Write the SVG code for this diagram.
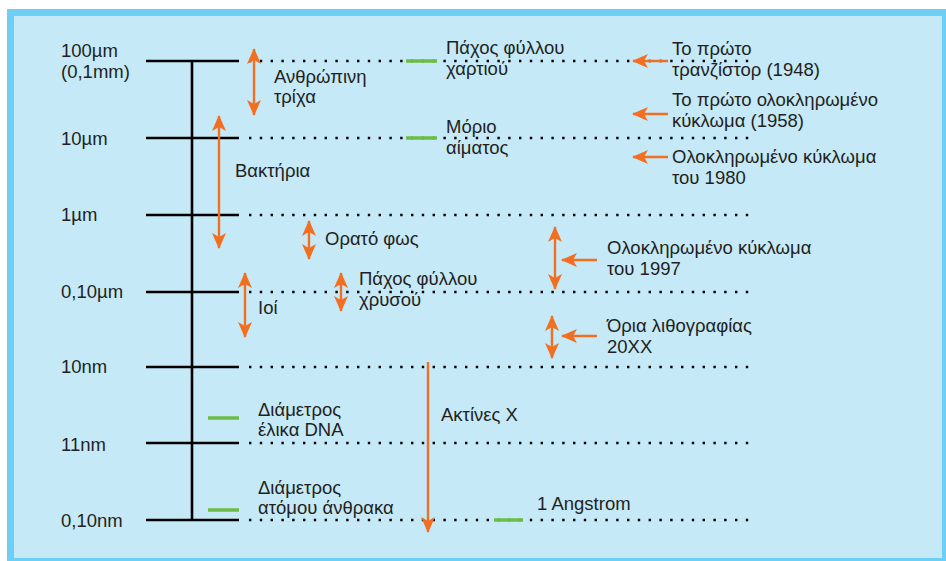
<svg xmlns="http://www.w3.org/2000/svg" width="946" height="561" viewBox="0 0 946 561">
<style>
text{font-family:"Liberation Sans",Arial,sans-serif;font-size:18.5px;fill:#231f20}
.tick{stroke:#000;stroke-width:2.6;fill:none}
.dot{stroke:#000;stroke-width:2.4;stroke-dasharray:2.4 8.4;fill:none}
.or{stroke:#f26f21;stroke-width:2.4;fill:none}
.gr{stroke:#6cbd45;stroke-width:3.5;fill:none}
</style>
<defs>
<marker id="ah" viewBox="0 0 16 14" refX="15" refY="7" markerWidth="16" markerHeight="14" markerUnits="userSpaceOnUse" orient="auto-start-reverse">
<path d="M0,0 L16,7 L0,14 L4,7 Z" fill="#f26f21"/>
</marker>
</defs>
<rect x="7" y="9" width="939" height="552" fill="#6dcff6"/>
<rect x="14" y="16" width="928" height="542" fill="#c6e9f8"/>

<g id="scale">
<line class="tick" x1="192" y1="61" x2="192" y2="520"/>
<line class="tick" x1="146" y1="61" x2="239" y2="61"/>
<line class="tick" x1="146" y1="138" x2="239" y2="138"/>
<line class="tick" x1="146" y1="215" x2="239" y2="215"/>
<line class="tick" x1="146" y1="292" x2="239" y2="292"/>
<line class="tick" x1="146" y1="367" x2="239" y2="367"/>
<line class="tick" x1="146" y1="443" x2="239" y2="443"/>
<line class="tick" x1="146" y1="520" x2="239" y2="520"/>
<line class="dot" x1="249" y1="61" x2="752" y2="61"/>
<line class="dot" x1="249" y1="138" x2="752" y2="138"/>
<line class="dot" x1="249" y1="215" x2="752" y2="215"/>
<line class="dot" x1="249" y1="292" x2="752" y2="292"/>
<line class="dot" x1="249" y1="367" x2="752" y2="367"/>
<line class="dot" x1="249" y1="443" x2="752" y2="443"/>
<line class="dot" x1="249" y1="520" x2="752" y2="520"/>
<text x="61" y="57">100µm</text>
<text x="61" y="78">(0,1mm)</text>
<text x="61" y="145">10µm</text>
<text x="61" y="221">1µm</text>
<text x="61" y="298">0,10µm</text>
<text x="61" y="373">10nm</text>
<text x="61" y="451">11nm</text>
<text x="61" y="527">0,10nm</text>
</g>

<g id="connectors">
<line class="or" x1="254" y1="49" x2="254" y2="115" marker-start="url(#ah)" marker-end="url(#ah)"/>
<line class="or" x1="219" y1="116" x2="219" y2="248" marker-start="url(#ah)" marker-end="url(#ah)"/>
<line class="or" x1="309" y1="221" x2="309" y2="259" marker-start="url(#ah)" marker-end="url(#ah)"/>
<line class="or" x1="245" y1="273" x2="245" y2="337" marker-start="url(#ah)" marker-end="url(#ah)"/>
<line class="or" x1="341" y1="273" x2="341" y2="311" marker-start="url(#ah)" marker-end="url(#ah)"/>
<line class="or" x1="555" y1="227" x2="555" y2="289" marker-start="url(#ah)" marker-end="url(#ah)"/>
<line class="or" x1="552" y1="316" x2="552" y2="358" marker-start="url(#ah)" marker-end="url(#ah)"/>
<line class="or" x1="428" y1="362" x2="428" y2="532" stroke-width="2" marker-end="url(#ah)"/>
<line class="or" x1="668" y1="61" x2="633" y2="61" marker-end="url(#ah)"/>
<line class="or" x1="668" y1="114" x2="633" y2="114" marker-end="url(#ah)"/>
<line class="or" x1="668" y1="157" x2="633" y2="157" marker-end="url(#ah)"/>
<line class="or" x1="597" y1="260" x2="562" y2="260" marker-end="url(#ah)"/>
<line class="or" x1="597" y1="336" x2="562" y2="336" marker-end="url(#ah)"/>
</g>

<g id="hair"><text x="274" y="83">Ανθρώπινη</text><text x="274" y="103">τρίχα</text></g>
<g id="bacteria"><text x="235" y="177">Βακτήρια</text></g>
<g id="paper"><line class="gr" x1="406" y1="61" x2="437" y2="61"/><text x="446" y="54">Πάχος φύλλου</text><text x="446" y="75">χαρτιού</text></g>
<g id="blood"><line class="gr" x1="406" y1="138" x2="437" y2="138"/><text x="446" y="133">Μόριο</text><text x="446" y="154">αίματος</text></g>
<g id="transistor"><text x="672" y="55">Το πρώτο</text><text x="672" y="76">τρανζίστορ (1948)</text></g>
<g id="ic1958"><text x="672" y="106">Το πρώτο ολοκληρωμένο</text><text x="672" y="127">κύκλωμα (1958)</text></g>
<g id="ic1980"><text x="672" y="163">Ολοκληρωμένο κύκλωμα</text><text x="672" y="184">του 1980</text></g>
<g id="light"><text x="325" y="245">Ορατό φως</text></g>
<g id="gold"><text x="359" y="285">Πάχος φύλλου</text><text x="359" y="306">χρυσού</text></g>
<g id="virus"><text x="258" y="314">Ιοί</text></g>
<g id="ic1997"><text x="607" y="254">Ολοκληρωμένο κύκλωμα</text><text x="607" y="275">του 1997</text></g>
<g id="litho"><text x="607" y="332">Όρια λιθογραφίας</text><text x="607" y="353">20XX</text></g>
<g id="dna"><line class="gr" x1="208" y1="418" x2="239" y2="418"/><text x="258" y="416">Διάμετρος</text><text x="258" y="436">έλικα DNA</text></g>
<g id="carbon"><line class="gr" x1="208" y1="510" x2="239" y2="510"/><text x="258" y="494">Διάμετρος</text><text x="258" y="514">ατόμου άνθρακα</text></g>
<g id="xray"><text x="441" y="421">Ακτίνες Χ</text></g>
<g id="angstrom"><line class="gr" x1="494" y1="520" x2="523" y2="520"/><text x="537" y="510">1 Angstrom</text></g>
</svg>
